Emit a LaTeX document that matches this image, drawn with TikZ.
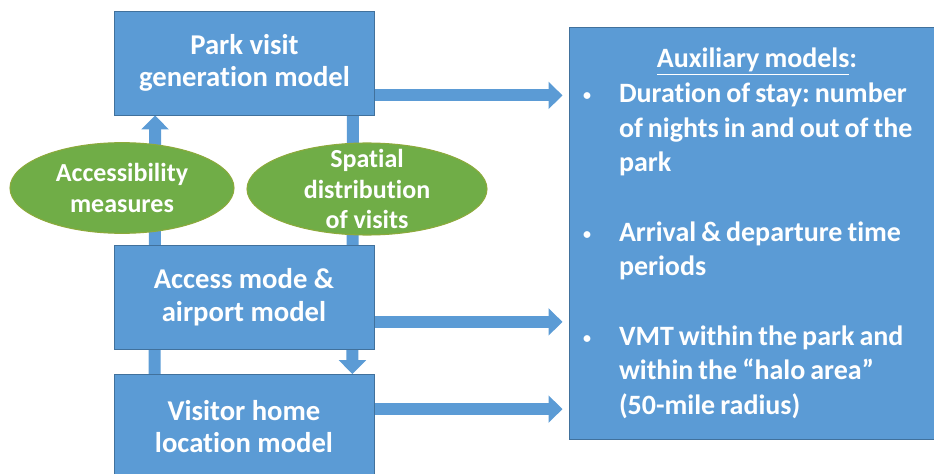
\documentclass[tikz,border=0pt]{standalone}
\usepackage{fontspec}
\setmainfont{Carlito}[Ligatures=NoCommon]
\usepackage{tikz}
\usetikzlibrary{shapes.geometric,arrows.meta,backgrounds,positioning}
\definecolor{boxblue}{RGB}{91,155,213}
\definecolor{boxedge}{RGB}{65,113,156}
\definecolor{ellgreen}{RGB}{112,173,71}
\definecolor{elledge}{RGB}{140,170,60}
\newcommand{\auxitem}[1]{\par\hangindent=28.5pt\hangafter=1\noindent
  \makebox[28.5pt][l]{\hspace{1.5pt}\raisebox{1.5pt}{\fontsize{12}{12}\selectfont\textbullet}}#1\par}
\tikzset{
  modelbox/.style={rectangle,fill=boxblue,draw=boxedge,line width=0.6pt,text=white,align=center,
    font=\bfseries\fontsize{21.5}{24.5}\selectfont,minimum width=195pt,minimum height=78pt},
  inputell/.style={ellipse,fill=ellgreen,draw=elledge,line width=0.8pt,inner sep=0pt},
  elltext/.style={text=white,align=center,font=\bfseries\fontsize{19.5}{23}\selectfont},
  auxbox/.style={rectangle,fill=boxblue,draw=boxedge,line width=0.75pt,text=white,
    font=\bfseries\fontsize{21}{26}\selectfont,text width=300pt,inner xsep=9pt,
    minimum width=318pt,minimum height=308.25pt},
  blockarrow/.style={-{Triangle[width=20pt,length=10.5pt]},line width=9pt,draw=boxblue}
}
\begin{document}
\frenchspacing
\begin{tikzpicture}[x=0.75pt,y=-0.75pt]
\useasboundingbox (0,0) rectangle (934,474);
\node[modelbox] (park) at (244.5,63) {Park visit\\generation model};
\node[modelbox] (access) at (244,297.5) {Access mode \&\\airport model};
\node[modelbox] (home) at (244,426.5) {Visitor home\\location model};
\node[inputell,minimum width=168pt,minimum height=68pt,
  label={[elltext]center:Accessibility\\measures}] (acc) at (122,188) {};
\node[inputell,minimum width=180pt,minimum height=69pt,
  label={[elltext]center:Spatial\\distribution\\of visits}] (spat) at (367,189) {};
\node[auxbox] (aux) at (781,233.5) {%
  \raggedright\spaceskip=0.18em\relax
  \noindent\makebox[264pt]{\underline{Auxiliary models}:}\par
  \auxitem{Duration of stay: number\newline of nights in and out of the\newline park}
  \vspace{26pt}
  \auxitem{Arrival \& departure time\newline periods}
  \vspace{26pt}
  \auxitem{VMT within the park and\newline within the “halo area”\newline (50-mile radius)}};
\begin{scope}[on background layer]
\draw[blockarrow] ([xshift=30.75pt]home.north west) -- ([xshift=30.75pt]park.south west);
\draw[blockarrow] ([xshift=-16.5pt]park.south east) -- ([xshift=-16.5pt]home.north east);
\draw[blockarrow,shorten >=4.5pt] ([yshift=15pt]park.south east) -- ([yshift=15pt]park.south east -| aux.west);
\draw[blockarrow,shorten >=4.5pt] ([yshift=21pt]access.south east) -- ([yshift=21pt]access.south east -| aux.west);
\draw[blockarrow,shorten >=4.5pt] ([yshift=-26.25pt]home.north east) -- ([yshift=-26.25pt]home.north east -| aux.west);
\end{scope}
\end{tikzpicture}
\end{document}
